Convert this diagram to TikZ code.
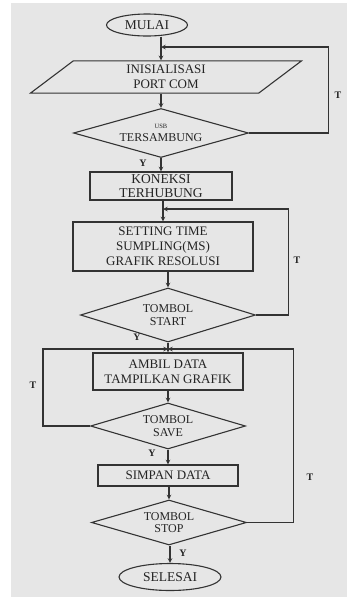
\documentclass[tikz,border=0pt]{standalone}
\usepackage{fontspec}
\setmainfont{Liberation Serif}
\usetikzlibrary{shapes.geometric}
\definecolor{bg}{HTML}{E6E6E6}
\definecolor{ink}{HTML}{333333}
\begin{document}
\begin{tikzpicture}[x=1pt, y=-1pt, >=stealth, line width=1.1pt,
every node/.style={text=ink!70!black, align=center, inner sep=0pt},
term/.style={ellipse, draw=ink, font=\fontsize{13.5}{14}\selectfont},
io/.style={trapezium, trapezium left angle=37, trapezium right angle=143,
  trapezium stretches body, inner ysep=4pt, draw=ink, font=\fontsize{13}{15.5}\selectfont},
box/.style={rectangle, draw=ink, font=\fontsize{13}{15}\selectfont},
dec/.style={diamond, draw=ink, font=\fontsize{12}{12.5}\selectfont},
lbl/.style={font=\bfseries\fontsize{10}{10}\selectfont},
flow/.style={draw=ink, ->}]
\useasboundingbox (0,0) rectangle (347,598);
\fill [bg] (11,3) rectangle (347,597);
\node [term, minimum width=81, minimum height=22] (mulai) at (147,25) {MULAI};
\node [io, minimum width=271] (init) at (166,77) {INISIALISASI\\PORT COM};
\node [dec, aspect=3.5, minimum width=175, minimum height=49] (usb) at (161,133)
  {{\fontsize{6.5}{13.5}\selectfont USB}\\TERSAMBUNG};
\node [box, minimum width=142, minimum height=28, font=\fontsize{13.5}{13.5}\selectfont] (kon) at (161,186) {KONEKSI\\TERHUBUNG};
\node [box, minimum width=180, minimum height=49] (set) at (163,246.5) {SETTING TIME\\SUMPLING(MS)\\GRAFIK RESOLUSI};
\node [dec, aspect=3.2, minimum width=175, minimum height=54] (qstart) at (168,315) {TOMBOL\\START};
\node [box, minimum width=150, minimum height=37] (ambil) at (168,371.5) {AMBIL DATA\\TAMPILKAN GRAFIK};
\node [dec, aspect=3.4, minimum width=155, minimum height=46] (qsave) at (168,426) {TOMBOL\\SAVE};
\node [box, minimum width=140, minimum height=21] (simpan) at (168,475.5) {SIMPAN DATA};
\node [dec, aspect=3.4, minimum width=155, minimum height=45] (qstop) at (169,522.5) {TOMBOL\\STOP};
\node [term, minimum width=102, minimum height=27] (selesai) at (170,577) {SELESAI};
\coordinate (j1) at (161,47);
\coordinate (j2) at (163,209);
\coordinate (j3) at (168,349);
\draw [flow] (mulai.south -| usb.north) -- (usb.north |- init.north);
\draw [flow] (usb.north |- init.south) -- (usb.north);
\draw [flow] (usb.south) -- (kon.north);
\draw [flow] (kon.south -| set.north) -- (set.north);
\draw [flow] (set.south -| qstart.north) -- (qstart.north);
\draw [flow] (qstart.south) -- (ambil.north);
\draw [flow] (ambil.south) -- (qsave.north);
\draw [flow] (qsave.south) -- (simpan.north);
\draw [flow] (simpan.south -| qstop.north) -- (qstop.north);
\draw [flow] (qstop.south -| selesai.north) -- (selesai.north);
\draw [flow] (usb.east) -- ++(79,0) |- (j1);
\draw [flow] (qstart.east) -- ++(32,0) |- (j2);
\draw [flow] (qsave.west) -- ++(-47,0) |- (j3);
\draw [flow] (qstop.east) -- ++(46,0) |- (j3);
\node [lbl] (t1) at (338,95) {T};
\node [lbl] (t2) at (297,260) {T};
\node [lbl] (t3) at (33,385) {T};
\node [lbl] (t4) at (310,477) {T};
\node [lbl] (y1) at (143,163) {Y};
\node [lbl] (y2) at (137,337) {Y};
\node [lbl] (y3) at (152,453) {Y};
\node [lbl] (y4) at (183,553) {Y};
\end{tikzpicture}
\end{document}
